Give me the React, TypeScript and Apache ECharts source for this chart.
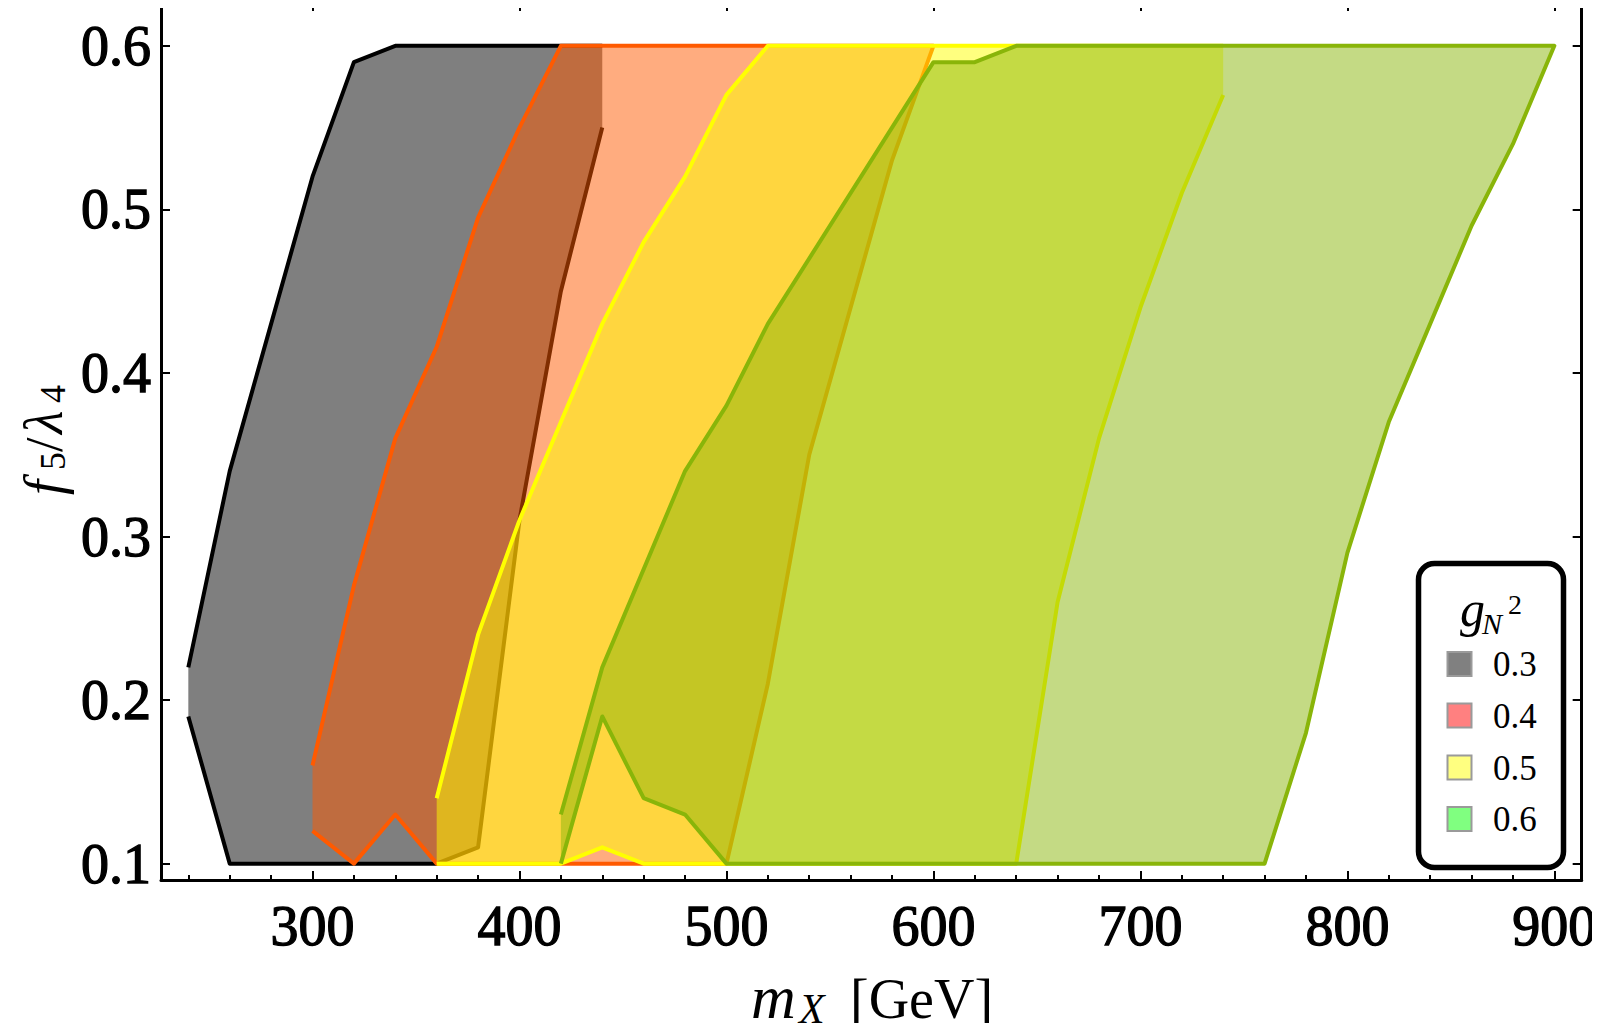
import React, { useEffect, useRef } from "react";
import * as echarts from "echarts";

// ---- axes ----
const X_MIN = 226.8;
const X_MAX = 913.2;
const Y_MIN = 0.09;
const Y_MAX = 0.6268;
const xMajorTicks = [300, 400, 500, 600, 700, 800, 900];
const xMinorTicks = [240, 260, 280, 320, 340, 360, 380, 420, 440, 460, 480, 520, 540, 560, 580, 620, 640, 660, 680, 720, 740, 760, 780, 820, 840, 860, 880];
const yMajorTicks = [0.1, 0.2, 0.3, 0.4, 0.5, 0.6];

// ---- regions (m_X, f5/lambda4); gaps = indices of unstroked edges ----
const region03 = [[260, 0.1], [240, 0.19], [240, 0.22], [260, 0.34], [280, 0.43], [300, 0.52], [320, 0.59], [340, 0.6], [440, 0.6], [440, 0.55], [420, 0.45], [400, 0.31], [380, 0.11], [360, 0.1]];
const gaps03 = [1, 8];
const region04 = [[300, 0.12], [300, 0.16], [320, 0.27], [340, 0.36], [360, 0.416], [380, 0.495], [400, 0.55], [420, 0.6], [600, 0.6], [580, 0.53], [540, 0.35], [520, 0.21], [500, 0.1], [360, 0.1], [340, 0.13], [320, 0.1]];
const gaps04 = [0];
const region05 = [[360, 0.1], [360, 0.14], [380, 0.24], [400, 0.31], [420, 0.37], [440, 0.43], [460, 0.48], [480, 0.52], [500, 0.57], [520, 0.6], [740, 0.6], [740, 0.57], [720, 0.51], [700, 0.44], [680, 0.36], [660, 0.26], [640, 0.1], [460, 0.1], [440, 0.11], [420, 0.1]];
const gaps05 = [0, 10];
const region06 = [[420, 0.13], [420, 0.1], [440, 0.19], [460, 0.14], [480, 0.13], [500, 0.1], [760, 0.1], [780, 0.18], [800, 0.29], [820, 0.37], [840, 0.43], [860, 0.49], [880, 0.54], [900, 0.6], [640, 0.6], [620, 0.59], [600, 0.59], [520, 0.43], [500, 0.38], [480, 0.34], [440, 0.22]];
const gaps06 = [0];

const legendLabels = ["0.3", "0.4", "0.5", "0.6"];
const legendSwatches = ["#808080", "#FF8080", "#FFFF80", "#80FF80"];

const SERIF = '"Liberation Serif", "Times New Roman", serif';

function makeRender(poly: number[][], gaps: number[], stroke: string, fill: string) {
  return (_params: any, api: any) => {
    const pts = poly.map((p) => api.coord(p));
    const n = pts.length;
    const lines: number[][][] = [];
    let cur: number[][] = [];
    const g0 = gaps[0];
    for (let k = 1; k <= n; k++) {
      const i = (g0 + k) % n;
      if (gaps.indexOf(i) >= 0) {
        if (cur.length > 1) lines.push(cur);
        cur = [];
      } else {
        if (cur.length === 0) cur.push(pts[i]);
        cur.push(pts[(i + 1) % n]);
      }
    }
    if (cur.length > 1) lines.push(cur);
    const children: any[] = [
      { type: "polygon", shape: { points: pts }, style: { fill, stroke: null } },
    ];
    lines.forEach((l) =>
      children.push({
        type: "polyline",
        shape: { points: l },
        style: { fill: null, stroke, lineWidth: 4, lineJoin: "round", lineCap: "butt" },
      })
    );
    return { type: "group", children };
  };
}

function regionSeries(poly: number[][], gaps: number[], stroke: string, fill: string) {
  return {
    type: "custom",
    coordinateSystem: "cartesian2d",
    xAxisIndex: 0,
    yAxisIndex: 0,
    silent: true,
    clip: false,
    data: [[poly[0][0], poly[0][1]]],
    renderItem: makeRender(poly, gaps, stroke, fill),
  };
}

const labelFont = {
  fontFamily: SERIF,
  fontSize: 56,
  fontWeight: "normal",
  color: "#000",
  textBorderColor: "#000",
  textBorderWidth: 1.3,
};

function xAxisDef(position: string, ticks: number[], len: number, showLine: boolean, showLabel: boolean) {
  return {
    type: "value",
    position,
    min: X_MIN,
    max: X_MAX,
    splitLine: { show: false },
    axisLine: { show: showLine, onZero: false, lineStyle: { color: "#000", width: 3 } },
    axisTick: { show: true, inside: true, length: len, customValues: ticks, lineStyle: { color: "#000", width: 2 } },
    axisLabel: {
      show: showLabel,
      customValues: xMajorTicks,
      margin: 18,
      ...labelFont,
    },
  };
}

function yAxisDef(position: string, showLabel: boolean) {
  return {
    type: "value",
    position,
    min: Y_MIN,
    max: Y_MAX,
    splitLine: { show: false },
    axisLine: { show: true, onZero: false, lineStyle: { color: "#000", width: 3 } },
    axisTick: { show: true, inside: true, length: 9, customValues: yMajorTicks, lineStyle: { color: "#000", width: 2 } },
    axisLabel: {
      show: showLabel,
      customValues: yMajorTicks,
      formatter: (v: number) => v.toFixed(1),
      margin: 10,
      ...labelFont,
    },
  };
}

function txt(text: string, x: number, baseline: number, size: number, italic: boolean) {
  return {
    type: "text",
    x,
    y: baseline - 0.305 * size,
    silent: true,
    style: {
      text,
      fill: "#000",
      font: `${italic ? "italic " : ""}${size}px ${SERIF}`,
      align: "left",
      verticalAlign: "middle",
    },
  };
}

export default function App() {
  const ref = useRef<HTMLDivElement>(null);
  useEffect(() => {
    if (!ref.current) return;
    const chart = echarts.init(ref.current, null, { renderer: "svg" });

    const legendCenters = [664, 715.5, 767.5, 819];
    const legendItems: any[] = [];
    legendLabels.forEach((lab, i) => {
      legendItems.push({
        type: "rect",
        shape: { x: 1447.5, y: legendCenters[i] - 12, width: 24, height: 24 },
        style: { fill: legendSwatches[i], stroke: "#9a9a9a", lineWidth: 2 },
        silent: true,
      });
      legendItems.push(txt(lab, 1493, legendCenters[i] + 11.5, 35, false));
    });

    const option: any = {
      animation: false,
      backgroundColor: "#fff",
      grid: { left: 161, right: 18, top: 2, bottom: 151, show: false, containLabel: false },
      xAxis: [
        xAxisDef("bottom", xMajorTicks, 9, true, true),
        xAxisDef("bottom", xMinorTicks, 5, false, false),
        xAxisDef("top", xMajorTicks, 9, true, false),
        xAxisDef("top", xMinorTicks, 5, false, false),
      ],
      yAxis: [yAxisDef("left", true), yAxisDef("right", false)],
      series: [
        regionSeries(region03, gaps03, "#000000", "rgba(0,0,0,0.5)"),
        regionSeries(region04, gaps04, "#FF5A00", "rgba(255,90,0,0.5)"),
        regionSeries(region05, gaps05, "#FFFF00", "rgba(255,255,0,0.5)"),
        regionSeries(region06, gaps06, "#89B509", "rgba(137,181,9,0.5)"),
      ],
      graphic: [
        // x axis title
        txt("m", 751, 1016, 62, true),
        {
          type: "text",
          x: 799,
          y: 1030,
          silent: true,
          style: {
            text: "X",
            fill: "#000",
            font: `italic 42px ${SERIF}`,
            align: "left",
            verticalAlign: "bottom",
          },
        },
        txt("[GeV]", 850, 1016, 56, false),
        // y axis title
        {
          type: "group",
          x: 60,
          y: 497,
          rotation: Math.PI / 2,
          children: [
            txt("f", 2, 0, 54, true),
            txt("5", 27, 4, 36, false),
            txt("/", 45, 0, 52, false),
            txt("λ", 63, 0, 54, true),
            txt("4", 94, 4, 36, false),
          ],
        },
        // legend box
        {
          type: "rect",
          shape: { x: 1418.5, y: 563.5, width: 145, height: 304, r: 16 },
          style: { fill: "#fff", stroke: "#000", lineWidth: 5.5 },
          silent: true,
        },
        txt("g", 1460, 624, 50, true),
        txt("N", 1482, 633, 30, true),
        txt("2", 1508, 613, 28, false),
        ...legendItems,
      ],
    };
    chart.setOption(option);
    return () => chart.dispose();
  }, []);
  return <div ref={ref} style={{ width: 1600, height: 1031, margin: -8 }} />;
}
